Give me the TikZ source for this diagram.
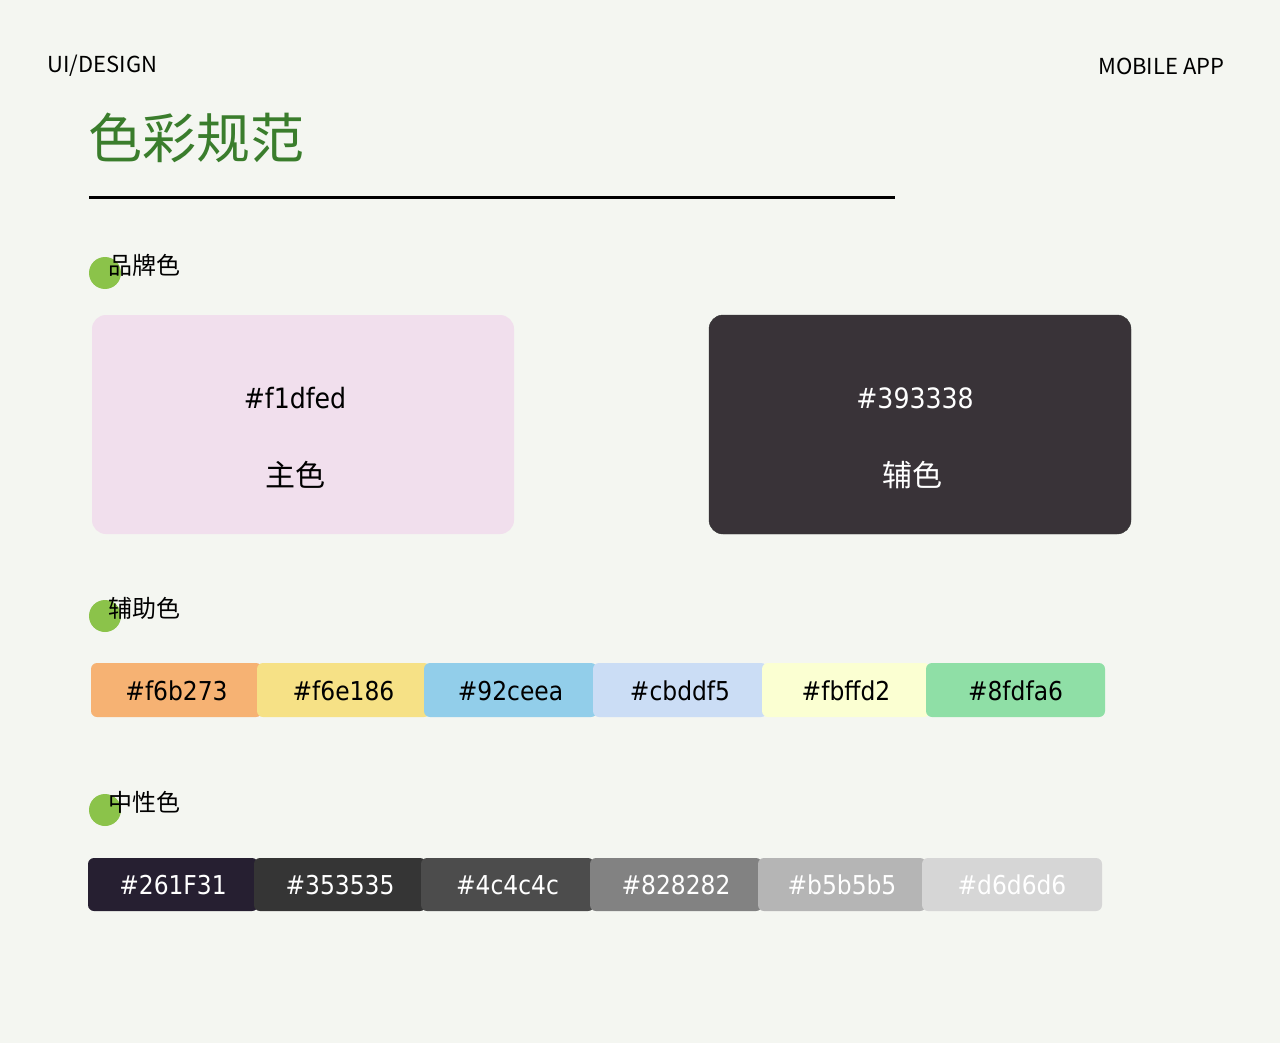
\documentclass[tikz,border=0pt]{standalone}
\usepackage{fontspec}
\setmainfont{Noto Sans CJK SC}
\newfontfamily\hexfont{DejaVu Sans Condensed}
\begin{document}
\begin{tikzpicture}[x=1pt,y=-1pt,
  sw/.style={rounded corners=6pt,inner sep=0},
  card/.style={rounded corners=14pt},
  hex/.style={font=\hexfont\fontsize{26}{28}\selectfont},
  sec/.style={font=\fontsize{24}{26}\selectfont,anchor=west,inner sep=0},
  dot/.style={fill=dotg,draw=none}]
\definecolor{bg}{HTML}{F4F6F1}
\definecolor{dotg}{HTML}{8BC34A}
\definecolor{titleg}{HTML}{3A7D2C}
\fill[bg] (0,0) rectangle (1280,1043);
\node[anchor=west,font=\fontsize{22}{24}\selectfont] (ui) at (44,66) {UI/DESIGN};
\node[anchor=east,font=\fontsize{22}{24}\selectfont] (app) at (1228,66) {MOBILE APP};
\node[anchor=west,inner sep=0,text=titleg,font=\fontsize{54}{58}\selectfont] (title) at (88,138) {色彩规范};
\draw[line width=3pt] (89,198) -- (895,198);
% sections
\foreach \n/\y/\t in {a/265/品牌色,b/608/辅助色,c/802/中性色}{
  \fill[dotg] (105,\y+8) circle (16);
  \node[sec] (s\n) at (108,\y) {\t};
}
% cards
\definecolor{c1}{HTML}{F1DFED}\definecolor{c2}{HTML}{393338}
\fill[c1,card] (92,315) rectangle (514,534);
\filldraw[fill=c2,draw=black!80,card] (709,315) rectangle (1131,534);
\node[hex,font=\hexfont\fontsize{28}{30}\selectfont] (h1) at (295,398) {\#f1dfed};
\node[font=\fontsize{30}{32}\selectfont] (m1) at (295,475) {主色};
\node[hex,text=white,font=\hexfont\fontsize{28}{30}\selectfont] (h2) at (915,398) {\#393338};
\node[text=white,font=\fontsize{30}{32}\selectfont] (m2) at (912,475) {辅色};
% row 1
\foreach \a/\b/\c/\tc in {91/262/f6b273/black,257/430/f6e186/black,424/597/92ceea/black,593/767/cbddf5/black,762/930/fbffd2/black,926/1105/8fdfa6/black}{
  \definecolor{tmp}{HTML}{\c}
  \fill[tmp,sw] (\a,663) rectangle (\b,717);
  \node[hex,text=\tc] (r\c) at ({(\a+\b)/2},691) {\#\c};
}
% row 2
\foreach \a/\b/\c/\lab/\tc in {88/258/261F31/261F31/white,254/426/353535/353535/white,421/594/4c4c4c/4c4c4c/white,590/762/828282/828282/white,758/926/b5b5b5/b5b5b5/white,922/1102/d6d6d6/d6d6d6/white}{
  \definecolor{tmp}{HTML}{\c}
  \fill[tmp,sw] (\a,858) rectangle (\b,911);
  \node[hex,text=\tc] (g\c) at ({(\a+\b)/2},885) {\#\lab};
}
\end{tikzpicture}
\end{document}
